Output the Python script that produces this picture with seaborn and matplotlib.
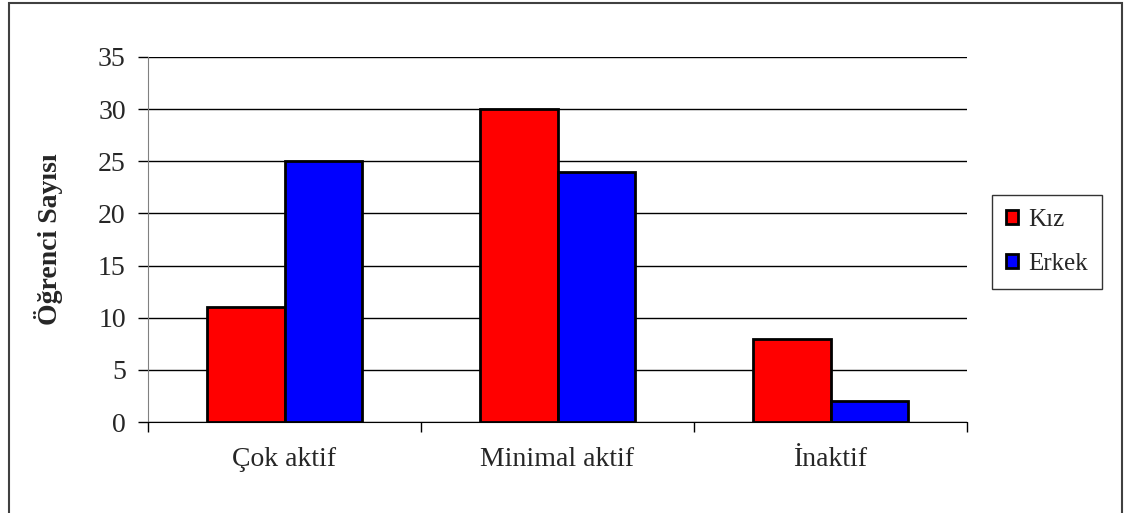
import pandas as pd
import matplotlib
matplotlib.use('agg')
import matplotlib.pyplot as plt
import seaborn as sns
from matplotlib.patches import Rectangle

categories = ['Çok aktif', 'Minimal aktif', 'İnaktif']
kiz = [11, 30, 8]
erkek = [25, 24, 2]

df = pd.DataFrame({
    'kategori': categories * 2,
    'cinsiyet': ['Kız'] * 3 + ['Erkek'] * 3,
    'sayi': kiz + erkek,
})

sns.set_style('white')
plt.rcParams['font.family'] = ['Liberation Serif', 'DejaVu Serif']

fig = plt.figure(figsize=(11.26, 5.13), dpi=100)
ax = fig.add_axes([148 / 1126, 1 - 422 / 513, 819 / 1126, 365 / 513])

sns.barplot(data=df, x='kategori', y='sayi', hue='cinsiyet',
            palette={'Kız': '#ff0000', 'Erkek': '#0000ff'},
            width=0.571, edgecolor='black', linewidth=2, saturation=1,
            ax=ax, legend=True)

ax.set_xlim(-0.5, 2.5)
ax.set_ylim(0, 35)
ax.set_yticks(range(0, 36, 5))
ax.yaxis.grid(True, color='black', linewidth=1)
ax.set_axisbelow(True)

for s in ['top', 'right']:
    ax.spines[s].set_visible(False)
ax.spines['left'].set_color('#808080')
ax.spines['bottom'].set_color('black')

ax.tick_params(axis='y', length=7, width=1, color='black', pad=9, labelsize=20, left=True)
ax.tick_params(axis='x', which='major', length=0, pad=18, labelsize=20)
ax.set_xticks([-0.5, 0.5, 1.5, 2.5], minor=True)
ax.tick_params(axis='x', which='minor', length=7, width=1, color='black', bottom=True)

ax.set_xlabel('')
ax.set_ylabel('Öğrenci Sayısı', fontsize=20, fontweight='bold')
ax.yaxis.set_label_coords(-0.104, 0.5)

handles, labels = ax.get_legend_handles_labels()
ax.legend(handles, labels, loc='upper left',
          bbox_to_anchor=(992 / 1126, 1 - 195 / 513), bbox_transform=fig.transFigure,
          borderaxespad=0, fontsize=18, frameon=True, fancybox=False, edgecolor='black',
          handlelength=0.5, handleheight=0.5, handletextpad=0.4,
          labelspacing=0.9, borderpad=0.55)

fig.patches.append(Rectangle((9 / 1126, -0.05), 1113 / 1126, 1.05 - 3 / 513,
                             transform=fig.transFigure, fill=False,
                             edgecolor='#404040', linewidth=1.5))

fig.savefig('out.png', dpi=100)
